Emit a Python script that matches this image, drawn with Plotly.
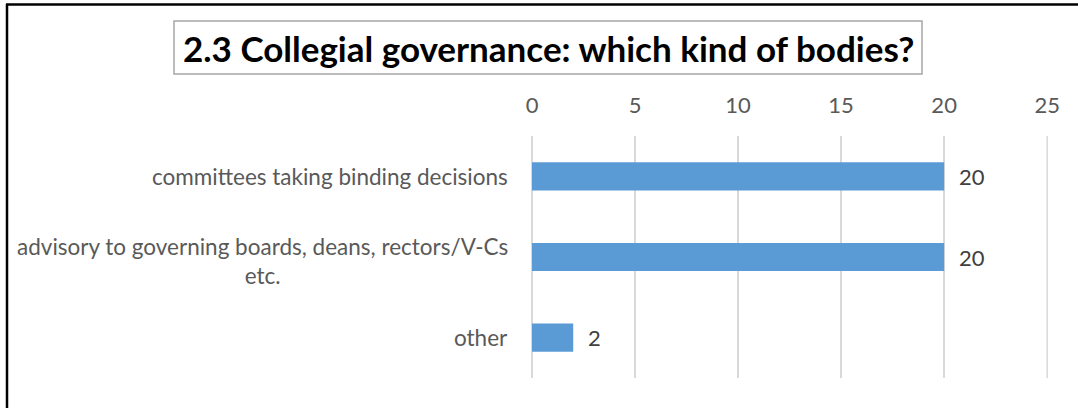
import plotly.graph_objects as go

# Survey answers: kinds of collegial bodies
categories = [
    "committees taking binding decisions",
    "advisory to governing boards, deans, rectors/V-Cs<br>etc.",
    "other",
]
counts = [20, 20, 2]
x_ticks = [0, 5, 10, 15, 20, 25]
title_text = "2.3 Collegial governance: which kind of bodies?"

W, H = 1078, 408
L, R, T, B = 532, 30, 136, 30
pw, ph = W - L - R, H - T - B


def px_x(p):
    return (p - L) / pw


def px_y(p):
    return 1 - (p - T) / ph


FONT = "Lato"
BAR = "#5B9BD5"
GRID = "#D9D9D9"

fig = go.Figure(
    go.Bar(
        y=list(range(len(categories))),
        x=counts,
        orientation="h",
        width=0.35,
        marker=dict(color=BAR, line=dict(width=0)),
        hoverinfo="skip",
    )
)

annotations = []
# category labels, right-aligned block with centred lines
for i, cat in enumerate(categories):
    annotations.append(
        dict(
            x=0, xref="paper", y=i, yref="y",
            text=cat, showarrow=False,
            xanchor="right", yanchor="middle", align="center",
            xshift=-22, yshift=-4 if "<br>" in cat else 0,
            font=dict(family=FONT, size=22.5, color="#595959"),
        )
    )
# value labels beside each bar
for i, v in enumerate(counts):
    annotations.append(
        dict(
            x=v, xref="x", y=i, yref="y",
            text=str(v), showarrow=False,
            xanchor="left", yanchor="middle",
            xshift=13,
            font=dict(family=FONT, size=22, color="#404040"),
        )
    )
# chart title
annotations.append(
    dict(
        x=px_x(548), xref="paper", y=px_y(48), yref="paper",
        text="<b>" + title_text + "</b>", showarrow=False,
        xanchor="center", yanchor="middle",
        font=dict(family=FONT, size=35, color="#000000"),
    )
)

shapes = [
    # gridline at the far end of the value axis
    dict(type="line", xref="x", yref="paper",
         x0=x_ticks[-1], x1=x_ticks[-1], y0=0, y1=1, layer="below",
         line=dict(color=GRID, width=1.5)),
    # title frame
    dict(type="rect", xref="paper", yref="paper",
         x0=px_x(174), x1=px_x(922), y0=px_y(21), y1=px_y(74),
         line=dict(color="#A6A6A6", width=1.5), fillcolor="rgba(0,0,0,0)"),
    # outer frame (left and top edges)
    dict(type="line", xref="paper", yref="paper",
         x0=px_x(7), x1=px_x(7), y0=px_y(4), y1=px_y(420),
         line=dict(color="#000000", width=2.5)),
    dict(type="line", xref="paper", yref="paper",
         x0=px_x(6), x1=px_x(1090), y0=px_y(4.5), y1=px_y(4.5),
         line=dict(color="#000000", width=2.5)),
]

fig.update_layout(
    width=W, height=H,
    margin=dict(l=L, r=R, t=T, b=B, pad=0),
    paper_bgcolor="white", plot_bgcolor="white",
    showlegend=False,
    annotations=annotations,
    shapes=shapes,
    xaxis=dict(
        side="top", range=[0, 25.04], tickvals=x_ticks,
        showgrid=True, gridcolor=GRID, gridwidth=1.5,
        zeroline=True, zerolinecolor=GRID, zerolinewidth=1.5,
        showline=False, ticks="",
        ticklabelstandoff=18,
        tickfont=dict(family=FONT, size=22, color="#595959"),
        fixedrange=True,
    ),
    yaxis=dict(
        range=[2.5, -0.5], showticklabels=False, showgrid=False,
        zeroline=False, showline=False, ticks="", fixedrange=True,
    ),
)

fig.write_html("out.html")
